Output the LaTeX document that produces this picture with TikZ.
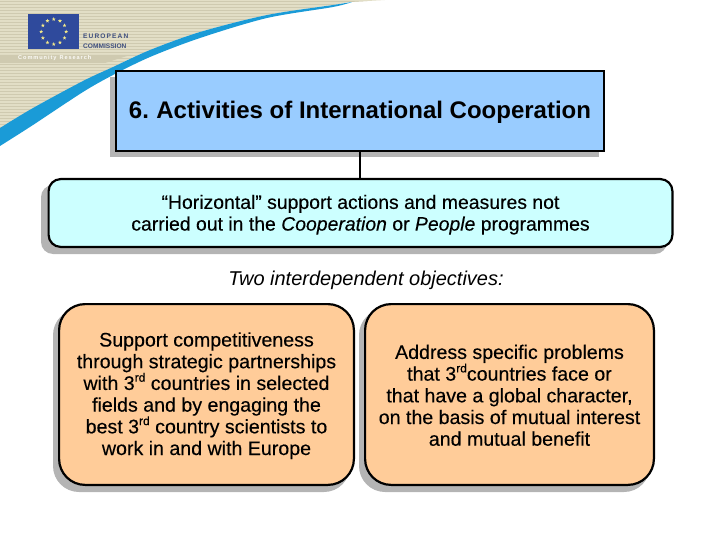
\documentclass[tikz,border=0pt]{standalone}
\usepackage{fontspec}
\setmainfont{Liberation Sans}
\newfontfamily\bodyfont[FakeBold=0.25]{Liberation Sans}
\usetikzlibrary{shapes.geometric,calc}
\definecolor{titlefill}{HTML}{99CCFF}
\definecolor{cyanfill}{HTML}{CCFFFF}
\definecolor{orangefill}{HTML}{FFCC99}
\definecolor{shadowgrey}{HTML}{B4B4B4}
\definecolor{beige}{HTML}{E2DEC6}
\definecolor{beigedark}{HTML}{CFCAB0}
\definecolor{swoosh}{HTML}{1A9BD7}
\definecolor{flagblue}{HTML}{2F4A9C}
\definecolor{flagyellow}{HTML}{F2E88A}
\definecolor{logotext}{HTML}{3F4F7F}
\newcommand{\rdmark}{\raisebox{0.42em}{\fontsize{12}{12}\selectfont rd}}
\tikzset{
  boxbase/.style={draw=black,line width=2.2pt,inner sep=0pt,anchor=north west},
  titlebox/.style={boxbase,fill=titlefill,minimum width=487.8pt,minimum height=79.8pt},
  supportbox/.style={boxbase,rounded corners=12pt,fill=cyanfill,minimum width=623.8pt,minimum height=67.8pt},
  objbox/.style={boxbase,rounded corners=26pt,fill=orangefill,minimum height=180.8pt},
  boxtext/.style={anchor=center,inner sep=0pt,align=center,text=black},
  titletxt/.style={boxtext,font=\fontsize{24}{28}\selectfont\bfseries},
  supporttxt/.style={boxtext,font=\bodyfont\fontsize{19.4}{21.7}\selectfont},
  objtxt/.style={boxtext,font=\bodyfont\fontsize{19.6}{21.7}\selectfont},
  shade1/.style={fill=shadowgrey,draw=none},
  link/.style={draw=black,line width=2.2pt},
  logotxt/.style={font=\fontsize{6.6}{7}\selectfont\bfseries,text=logotext,anchor=west,inner sep=0pt},
}
\begin{document}
\begin{tikzpicture}[x=1pt,y=-1pt]
\useasboundingbox (0,0) rectangle (720,540);
% banner
\begin{scope}
\clip (0,0) -- (385,0) -- (350,2) -- (333,5) -- plot[smooth] coordinates {(333,5) (267,15) (200,32) (150,50) (113,67) (83,82) (33,108) (0,130)} -- cycle;
\fill[beige] (0,0) rectangle (385,140);
\foreach \yy in {1,4,...,140} {\draw[beigedark,line width=0.7pt] (0,\yy) -- (385,\yy);}
\fill[beigedark] (0,55) -- (130,55) -- (105,63) -- (0,63) -- cycle;
\end{scope}
\fill[swoosh] plot[smooth] coordinates {(0,128) (33,108) (83,81) (113,67) (150,50) (200,32) (267,15) (333,5) (352,2)}
  -- plot[smooth] coordinates {(352,2) (333,7) (267,18) (200,38) (150,57) (113,75) (83,92) (33,125) (0,146)} -- cycle;
% logo
\node[fill=flagblue,draw=none,minimum width=51pt,minimum height=35pt,inner sep=0pt,anchor=north west] (flag) at (28,14) {};
\foreach \a in {0,30,...,330} {\node[star,star points=5,star point ratio=2.4,fill=flagyellow,draw=none,inner sep=0.6pt,minimum size=3.6pt] at ($(flag.center)+(\a:12.5)$) {};}
\node[logotxt] (eu) at (83,36.5) {E\,U\,R\,O\,P\,E\,A\,N};
\node[logotxt] (comm) at (83,46) {COMMISSION};
\node[font=\fontsize{5.6}{6}\selectfont\bfseries,text=white!85!beige,anchor=west,inner sep=0pt] (cr) at (18,58.5) {C\,o\,m\,m\,u\,n\,i\,t\,y\ \ R\,e\,s\,e\,a\,r\,c\,h};
% shadows
\fill[shade1] (110,77) rectangle (599,157);
\fill[shade1,rounded corners=12pt] (41,185) rectangle (667,254);
\fill[shade1,rounded corners=26pt] (53,309) rectangle (350,492);
\fill[shade1,rounded corners=26pt] (359,309) rectangle (650,492);
% boxes
\node[titlebox] (title) at (115,70) {};
\node[titletxt] (titletext) at ($(title.center)+(0,1.5)$) {6.\hspace{-1.5pt} Activities of International Cooperation};
\node[supportbox] (support) at (47.5,178) {};
\node[supporttxt] (supporttext) at ($(support.center)+(0,1.7)$) {“Horizontal” support actions and measures not\\carried out in the \textit{Cooperation} or \textit{People} programmes};
\node[objbox,minimum width=294.8pt] (left) at (58,303) {};
\node[objtxt] (lefttext) at ($(left.center)+(0,1.2)$) {Support competitiveness\\through strategic partnerships\\with 3\rdmark{} countries in selected\\fields and by engaging the\\best 3\rdmark{} country scientists to\\work in and with Europe};
\node[objbox,minimum width=288.8pt] (right) at (364,303) {};
\node[objtxt] (righttext) at ($(right.center)+(0,0.8)$) {Address specific problems\\that 3\rdmark{}countries face or\\that have a global character,\\on the basis of mutual interest\\and mutual benefit};
\draw[link] (title.south) -- (title.south |- support.north);
\node[boxtext,font=\fontsize{20}{24}\selectfont\itshape] (objectives) at (366,280) {Two interdependent objectives:};
\end{tikzpicture}
\end{document}
